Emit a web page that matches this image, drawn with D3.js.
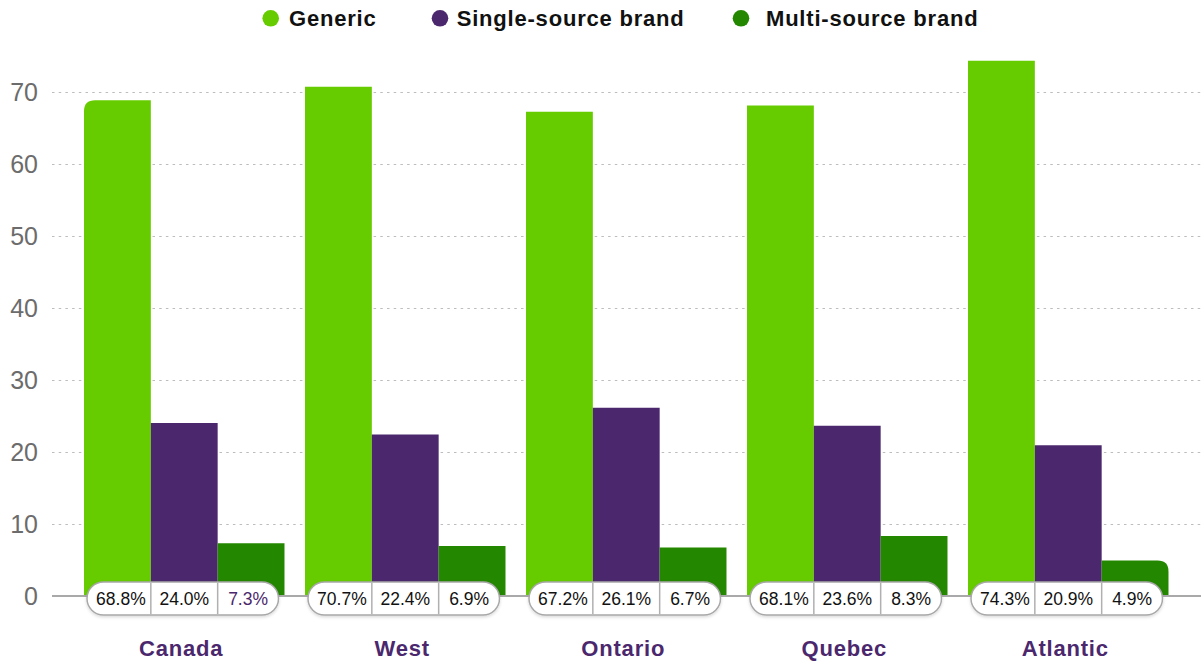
<!DOCTYPE html>
<html>
<head>
<meta charset="utf-8">
<script src="https://cdn.jsdelivr.net/npm/d3@7"></script>
<style>
  html, body { margin: 0; padding: 0; background: #fff; }
  svg { display: block; font-family: "Liberation Sans", Arial, Helvetica, sans-serif; }
</style>
</head>
<body>
<svg id="chart" width="1201" height="664"></svg>
<script>
// Share of prescriptions by product type, per region (%)
const regions = ["Canada", "West", "Ontario", "Quebec", "Atlantic"];
const seriesNames = ["Generic", "Single-source brand", "Multi-source brand"];
const generic = [68.8, 70.7, 67.2, 68.1, 74.3];
const singleSource = [24.0, 22.4, 26.1, 23.6, 20.9];
const multiSource = [7.3, 6.9, 6.7, 8.3, 4.9];
const yTicks = [0, 10, 20, 30, 40, 50, 60, 70];

const colors = ["#66cc00", "#4b286d", "#248700"];
const values = [generic, singleSource, multiSource];

const svg = d3.select("#chart");
const W = 1201;

const x0 = d3.scaleBand().domain(regions).range([84, 1168.5]).paddingInner(0.0928).paddingOuter(0);
const x1 = d3.scaleBand().domain(seriesNames).range([0, x0.bandwidth()]);
const y = d3.scaleLinear().domain([0, 80]).range([595.7, 19.7]);

// y labels
const yAxis = d3.axisLeft(y).tickValues(yTicks).tickSize(0).tickPadding(0).tickFormat(d3.format("d"));
const gy = svg.append("g").attr("transform", "translate(38,0)").call(yAxis);
gy.select(".domain").remove();
gy.selectAll("text")
  .attr("fill", "#6c6c6c")
  .style("font-size", "25px")
  .attr("dy", "0.36em");

// dotted gridlines
svg.append("g").selectAll("line")
  .data(yTicks.filter(d => d > 0))
  .join("line")
  .attr("x1", 52).attr("x2", W)
  .attr("y1", d => Math.round(y(d)) + 0.5).attr("y2", d => Math.round(y(d)) + 0.5)
  .attr("stroke", "#bdbdbd")
  .attr("stroke-width", 1.2)
  .attr("stroke-dasharray", "2.5,4.2");

// bars
const rows = regions.map((r, i) => ({ region: r, i, vals: seriesNames.map((s, k) => ({ s, k, v: values[k][i], gi: i })) }));
const R = 11;
function barPath(x, yTop, w, h, tl, tr) {
  const rl = tl ? Math.min(R, h) : 0, rr = tr ? Math.min(R, h) : 0;
  return `M${x},${yTop + h}` +
    `V${yTop + rl}` + (rl ? `Q${x},${yTop} ${x + rl},${yTop}` : "") +
    `H${x + w - rr}` + (rr ? `Q${x + w},${yTop} ${x + w},${yTop + rr}` : "") +
    `V${yTop + h}Z`;
}

const barGroups = svg.append("g").selectAll("g")
  .data(rows).join("g")
  .attr("transform", d => `translate(${x0(d.region)},0)`);

barGroups.selectAll("path")
  .data(d => d.vals)
  .join("path")
  .attr("fill", d => colors[d.k])
  .attr("d", d => {
    const first = d.gi === 0 && d.k === 0;
    const last = d.gi === regions.length - 1 && d.k === seriesNames.length - 1;
    return barPath(x1(d.s), y(d.v), x1.bandwidth(), y(0) - y(d.v), first, last);
  });

// baseline
svg.append("line")
  .attr("x1", 52).attr("x2", W)
  .attr("y1", 596).attr("y2", 596)
  .attr("stroke", "#a9a9a9").attr("stroke-width", 2);

// value pills (above the baseline)
const defs = svg.append("defs");
const f = defs.append("filter").attr("id", "pillShadow").attr("x", "-10%").attr("y", "-30%").attr("width", "120%").attr("height", "180%");
f.append("feDropShadow").attr("dx", 0).attr("dy", 1.5).attr("stdDeviation", 1.5).attr("flood-color", "#000").attr("flood-opacity", 0.15);

const pillTop = 582, pillH = 33;
const pills = svg.append("g").selectAll("g")
  .data(rows).join("g")
  .attr("transform", d => `translate(${x0(d.region)},0)`);

pills.append("rect")
  .attr("x", 3).attr("y", pillTop)
  .attr("width", x0.bandwidth() - 9).attr("height", pillH)
  .attr("rx", pillH / 2)
  .attr("fill", "#fff")
  .attr("stroke", "#a8a8a8").attr("stroke-width", 1.5)
  .attr("filter", "url(#pillShadow)");

pills.selectAll("line.div")
  .data(seriesNames.slice(1))
  .join("line").attr("class", "div")
  .attr("x1", d => x1(d)).attr("x2", d => x1(d))
  .attr("y1", pillTop + 0.75).attr("y2", pillTop + pillH - 0.75)
  .attr("stroke", "#b0b0b0").attr("stroke-width", 1.5);

pills.selectAll("text")
  .data(d => d.vals)
  .join("text")
  .attr("x", d => {
    const a = d.k === 0 ? 3 : x1(d.s);
    const b = d.k === 2 ? x0.bandwidth() - 6 : x1(d.s) + x1.bandwidth();
    return (a + b) / 2 + (d.k === 0 ? 2 : 0);
  })
  .attr("y", pillTop + pillH / 2)
  .attr("dy", "0.36em")
  .attr("text-anchor", "middle")
  .style("font-size", "17.5px")
  .attr("fill", d => (d.gi === 0 && d.k === 2) ? "#4b286d" : "#111")
  .text(d => d.v.toFixed(1) + "%");

// region labels
pills.append("text")
  .attr("x", x0.bandwidth() / 2 - 3)
  .attr("y", 656)
  .attr("text-anchor", "middle")
  .attr("fill", "#4b286d")
  .style("font-size", "22px")
  .style("font-weight", "bold")
  .style("letter-spacing", "0.8px")
  .text(d => d.region);

// legend
const legendX = [270.7, 440, 741];
const legendTextX = [289, 456.7, 766];
const lg = svg.append("g").selectAll("g").data(seriesNames).join("g");
lg.append("circle")
  .attr("cx", (d, i) => legendX[i]).attr("cy", 18.3).attr("r", 8.3)
  .attr("fill", (d, i) => colors[i]);
lg.append("text")
  .attr("x", (d, i) => legendTextX[i]).attr("y", 26)
  .attr("fill", "#111")
  .style("font-size", "22px")
  .style("font-weight", "bold")
  .style("letter-spacing", "0.8px")
  .text(d => d);
</script>
</body>
</html>
